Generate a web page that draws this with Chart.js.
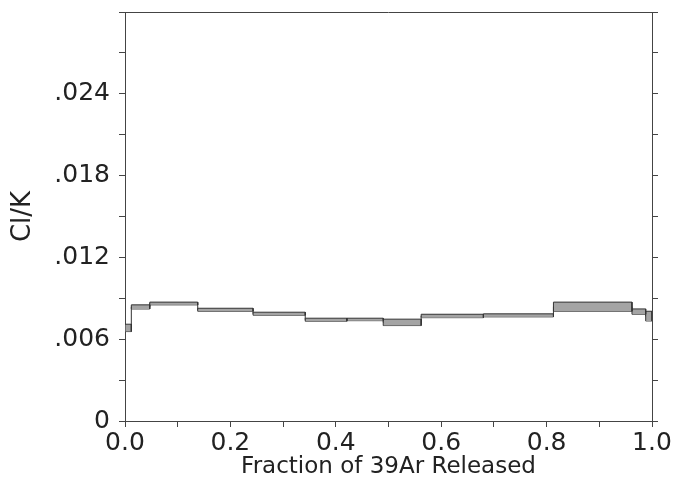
<!DOCTYPE html>
<html>
<head>
<meta charset="utf-8">
<script src="https://cdn.jsdelivr.net/npm/chart.js@4/dist/chart.umd.min.js"></script>
<style>
  body { margin: 0; background: #fff; }
  #grafico { display: block; }
</style>
</head>
<body>
<canvas id="grafico" width="678" height="491"></canvas>
<script>
// limites de cada etapa (fracao acumulada de 39Ar liberado)
var limites = [0, 0.012, 0.047, 0.138, 0.243, 0.342, 0.421, 0.490, 0.562, 0.680, 0.813, 0.962, 0.988, 1.0];
// Cl/K: limite inferior e superior de cada caixa
var clkMin = [0.00656, 0.00822, 0.00852, 0.00805, 0.00776, 0.00732, 0.00736, 0.00700, 0.00758, 0.00764, 0.00805, 0.00783, 0.00734];
var clkMax = [0.00710, 0.00852, 0.00872, 0.00827, 0.00798, 0.00754, 0.00754, 0.00747, 0.00783, 0.00786, 0.00872, 0.00822, 0.00805];
var ticksX = [0.0, 0.2, 0.4, 0.6, 0.8, 1.0];
var ticksY = [0, 0.006, 0.012, 0.018, 0.024];

var fonteTicks = { family: "'DejaVu Sans', sans-serif", size: 25 };
var fonteTituloX = { family: "'DejaVu Sans', sans-serif", size: 23 };
var fonteTituloY = { family: "'DejaVu Sans', sans-serif", size: 26 };
var corEixo = '#444';
var corTexto = '#222';

var datasets = [];

// uma caixa por etapa: contorno de cima (com preenchimento) + linha de baixo
for (var i = 0; i < clkMin.length; i++) {
    var x0 = limites[i], x1 = limites[i + 1];
    datasets.push({
        data: [
            { x: x0, y: clkMin[i] }, { x: x0, y: clkMax[i] },
            { x: x1, y: clkMax[i] }, { x: x1, y: clkMin[i] }
        ],
        borderColor: '#333',
        borderWidth: 1,
        backgroundColor: '#a4a4a4',
        fill: { value: clkMin[i] },
        pointRadius: 0,
        tension: 0,
        order: 0
    });
    datasets.push({
        data: [{ x: x0, y: clkMin[i] }, { x: x1, y: clkMin[i] }],
        borderColor: '#333',
        borderWidth: 1,
        fill: false,
        pointRadius: 0,
        order: 0
    });
}

// linha em degrau ligando as caixas (fica por baixo)
var degrau = [];
for (var j = 0; j < clkMin.length; j++) {
    degrau.push({ x: limites[j], y: (clkMin[j] + clkMax[j]) / 2 });
}
degrau.push({ x: 1.0, y: (clkMin[clkMin.length - 1] + clkMax[clkMax.length - 1]) / 2 });
datasets.push({
    data: degrau,
    stepped: 'before',
    borderColor: '#333',
    borderWidth: 1,
    pointRadius: 0,
    fill: false,
    order: 5
});

function rotuloY(v) {
    for (var k = 0; k < ticksY.length; k++) {
        if (Math.abs(v - ticksY[k]) < 1e-6) {
            return ticksY[k] === 0 ? '0' : ticksY[k].toFixed(3).replace(/^0/, '');
        }
    }
    return '';
}

function rotuloX(v) {
    for (var k = 0; k < ticksX.length; k++) {
        if (Math.abs(v - ticksX[k]) < 1e-6) return ticksX[k].toFixed(1);
    }
    return '';
}

// linha de cima da moldura
var moldura = {
    id: 'moldura',
    afterDraw: function (chart) {
        var a = chart.chartArea, c = chart.ctx;
        c.save();
        c.strokeStyle = corEixo;
        c.lineWidth = 1;
        c.beginPath();
        c.moveTo(a.left, Math.round(a.top) + 0.5);
        c.lineTo(a.right, Math.round(a.top) + 0.5);
        c.stroke();
        c.restore();
    }
};

var ctx = document.getElementById('grafico').getContext('2d');

var grafico = new Chart(ctx, {
    type: 'line',
    data: { datasets: datasets },
    plugins: [moldura],
    options: {
        responsive: false,
        animation: false,
        events: [],
        layout: { padding: { top: 12, left: 0, right: 0, bottom: 0 } },
        plugins: {
            legend: { display: false },
            tooltip: { enabled: false }
        },
        scales: {
            x: {
                type: 'linear',
                position: 'bottom',
                min: 0, max: 1,
                afterFit: function (s) { s.height = 70; s.paddingLeft = 0; s.paddingRight = 0; },
                ticks: { stepSize: 0.1, callback: rotuloX, font: fonteTicks, color: corTexto, padding: 1, maxRotation: 0, autoSkip: false },
                grid: { drawOnChartArea: false, tickLength: 6, color: corEixo },
                border: { color: corEixo, width: 1 },
                title: { display: true, text: 'Fraction of 39Ar Released', font: fonteTituloX, color: corTexto, padding: { top: 0, bottom: 10 } }
            },
            y: {
                type: 'linear',
                position: 'left',
                min: 0, max: 0.03,
                afterFit: function (s) { s.width = 125; s.paddingTop = 0; s.paddingBottom = 0; },
                ticks: { stepSize: 0.003, callback: rotuloY, font: fonteTicks, color: corTexto, padding: 9, autoSkip: false },
                grid: { drawOnChartArea: false, tickLength: 6, color: corEixo },
                border: { color: corEixo, width: 1 },
                title: { display: true, text: 'Cl/K', font: fonteTituloY, color: corTexto, padding: { top: 8, bottom: 0 } }
            },
            yDir: {
                type: 'linear',
                position: 'right',
                min: 0, max: 0.03,
                afterFit: function (s) { s.width = 26; s.paddingTop = 0; s.paddingBottom = 0; },
                ticks: { stepSize: 0.003, callback: function () { return ''; }, autoSkip: false },
                grid: { drawOnChartArea: false, tickLength: 6, color: corEixo },
                border: { color: corEixo, width: 1 }
            }
        }
    }
});
</script>
</body>
</html>
